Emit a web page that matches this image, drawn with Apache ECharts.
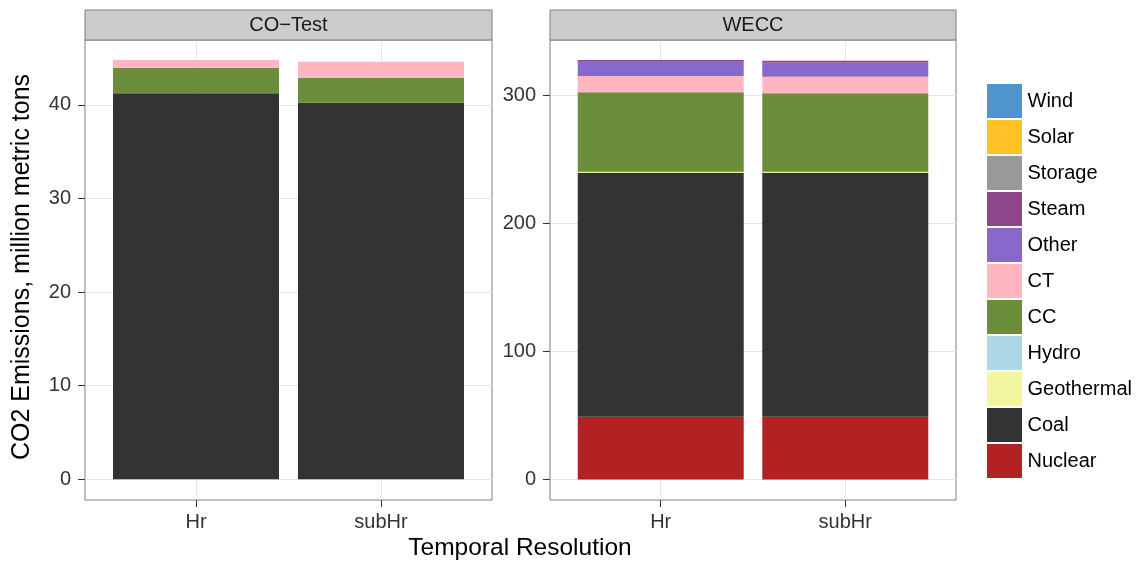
<!DOCTYPE html>
<html>
<head>
<meta charset="utf-8">
<script src="https://cdn.jsdelivr.net/npm/echarts@6/dist/echarts.min.js"></script>
<style>
html,body{margin:0;padding:0;background:#fff;}
#chart{width:1140px;height:561px;}
</style>
</head>
<body>
<div id="chart"></div>
<script>
// ---- data ----
var categories = ['Hr', 'subHr'];
var panels = ['CO\u2212Test', 'WECC'];
var fuels = ['Nuclear', 'Coal', 'Geothermal', 'Hydro', 'CC', 'CT', 'Other', 'Steam', 'Storage', 'Solar', 'Wind'];
// CO-Test values (million metric tons), order Hr, subHr
var coNuclear = [0, 0];
var coCoal = [41.24, 40.24];
var coGeothermal = [0, 0];
var coHydro = [0, 0];
var coCC = [2.73, 2.66];
var coCT = [0.83, 1.7];
var coOther = [0, 0];
var coSteam = [0, 0];
var coStorage = [0, 0];
var coSolar = [0, 0];
var coWind = [0, 0];
// WECC values
var weNuclear = [49.1, 49.1];
var weCoal = [190.6, 190.6];
var weGeothermal = [0.8, 0.8];
var weHydro = [0, 0];
var weCC = [62.0, 61.2];
var weCT = [12.7, 13.0];
var weOther = [11.2, 10.9];
var weSteam = [1.3, 1.6];
var weStorage = [0, 0];
var weSolar = [0, 0];
var weWind = [0, 0];
var leftTicks = [0, 10, 20, 30, 40];
var rightTicks = [0, 100, 200, 300];

var colors = {
  Wind: '#4F94CD', Solar: '#FFC125', Storage: '#999999', Steam: '#8B4789',
  Other: '#8968CD', CT: '#FFB6C1', CC: '#6B8E3A', Hydro: '#ADD8E6',
  Geothermal: '#F3F5A0', Coal: '#333333', Nuclear: '#B22222'
};
var coData = {Nuclear: coNuclear, Coal: coCoal, Geothermal: coGeothermal, Hydro: coHydro, CC: coCC, CT: coCT, Other: coOther, Steam: coSteam, Storage: coStorage, Solar: coSolar, Wind: coWind};
var weData = {Nuclear: weNuclear, Coal: weCoal, Geothermal: weGeothermal, Hydro: weHydro, CC: weCC, CT: weCT, Other: weOther, Steam: weSteam, Storage: weStorage, Solar: weSolar, Wind: weWind};

// discrete axis with ggplot-style expansion: 12 slots, categories at slots 3 and 8
var NSLOT = 12, slotIdx = [3, 8];
var slots = [];
for (var i = 0; i < NSLOT; i++) slots.push('');
categories.forEach(function (c, k) { slots[slotIdx[k]] = c; });
function toSlots(arr) {
  var out = [];
  for (var i = 0; i < NSLOT; i++) out.push('-');
  arr.forEach(function (v, k) { out[slotIdx[k]] = v; });
  return out;
}
function isCat(i) { return slotIdx.indexOf(i) >= 0; }

var FONT = '"Liberation Sans", Arial, sans-serif';
var chart = echarts.init(document.getElementById('chart'), null, {renderer: 'canvas'});

var grids = [
  {left: 85, top: 40, width: 407, height: 460},
  {left: 550, top: 40, width: 406, height: 460}
];
var xAxes = grids.map(function (g, gi) {
  return {
    type: 'category', gridIndex: gi, data: slots, boundaryGap: false, position: 'bottom',
    axisLine: {show: false, onZero: false},
    axisTick: {show: true, length: 7, interval: function (i) { return isCat(i); }, lineStyle: {color: '#333', width: 1}},
    axisLabel: {interval: function (i) { return isCat(i); }, margin: 12, fontSize: 20, color: '#333', fontFamily: FONT},
    splitLine: {show: true, interval: function (i) { return isCat(i); }, lineStyle: {color: '#e5e5e5', width: 1}}
  };
});
var yAxes = [
  {min: -2.21, max: 46.93, custom: leftTicks},
  {min: -16.0, max: 343.4, custom: rightTicks}
].map(function (a, gi) {
  return {
    type: 'value', gridIndex: gi, min: a.min, max: a.max,
    axisLine: {show: false, onZero: false},
    axisTick: {show: true, length: 7, customValues: a.custom, lineStyle: {color: '#333', width: 1}},
    axisLabel: {customValues: a.custom, margin: 14, fontSize: 20, color: '#333', fontFamily: FONT},
    splitLine: {show: true, lineStyle: {color: '#e5e5e5', width: 1}}
  };
});

var series = [];
[coData, weData].forEach(function (d, gi) {
  fuels.forEach(function (f) {
    series.push({
      name: f, type: 'bar', stack: 'p' + gi, xAxisIndex: gi, yAxisIndex: gi,
      barWidth: 166, data: toSlots(d[f]),
      itemStyle: {color: colors[f]},
      emphasis: {disabled: true}
    });
  });
});

var graphics = [];
grids.forEach(function (g, gi) {
  graphics.push({
    type: 'rect', shape: {x: g.left, y: 10, width: g.width, height: 30},
    style: {fill: '#cccccc', stroke: '#7f7f7f', lineWidth: 1}, z: 10
  });
  graphics.push({
    type: 'text', x: g.left + g.width / 2, y: 25,
    style: {text: panels[gi], fontSize: 20, fontFamily: FONT, fill: '#1a1a1a', textAlign: 'center', textVerticalAlign: 'middle'}, z: 11
  });
});
graphics.push({
  type: 'text', x: 520, y: 548,
  style: {text: 'Temporal Resolution', fontSize: 24.5, fontFamily: FONT, fill: '#000', textAlign: 'center', textVerticalAlign: 'middle'}
});
graphics.push({
  type: 'text', x: 22, y: 267, rotation: Math.PI / 2,
  style: {text: 'CO2 Emissions, million metric tons', fontSize: 25, fontFamily: FONT, fill: '#000', textAlign: 'center', textVerticalAlign: 'middle'}
});

chart.setOption({
  animation: false,
  backgroundColor: '#fff',
  grid: grids.map(function (g) {
    return {left: g.left, top: g.top, width: g.width, height: g.height, show: true, borderColor: '#7f7f7f', borderWidth: 1, backgroundColor: '#fff', containLabel: false};
  }),
  xAxis: xAxes,
  yAxis: yAxes,
  legend: {
    orient: 'vertical', left: 986, top: 83, padding: 0, icon: 'rect',
    itemWidth: 36, itemHeight: 35, itemGap: 0, selectedMode: false,
    data: fuels.slice().reverse(),
    textStyle: {fontSize: 20, color: '#000', fontFamily: FONT, padding: [0, 0, 0, 0]},
    itemStyle: {borderColor: '#ffffff', borderWidth: 1}
  },
  graphic: graphics,
  series: series
});
</script>
</body>
</html>
